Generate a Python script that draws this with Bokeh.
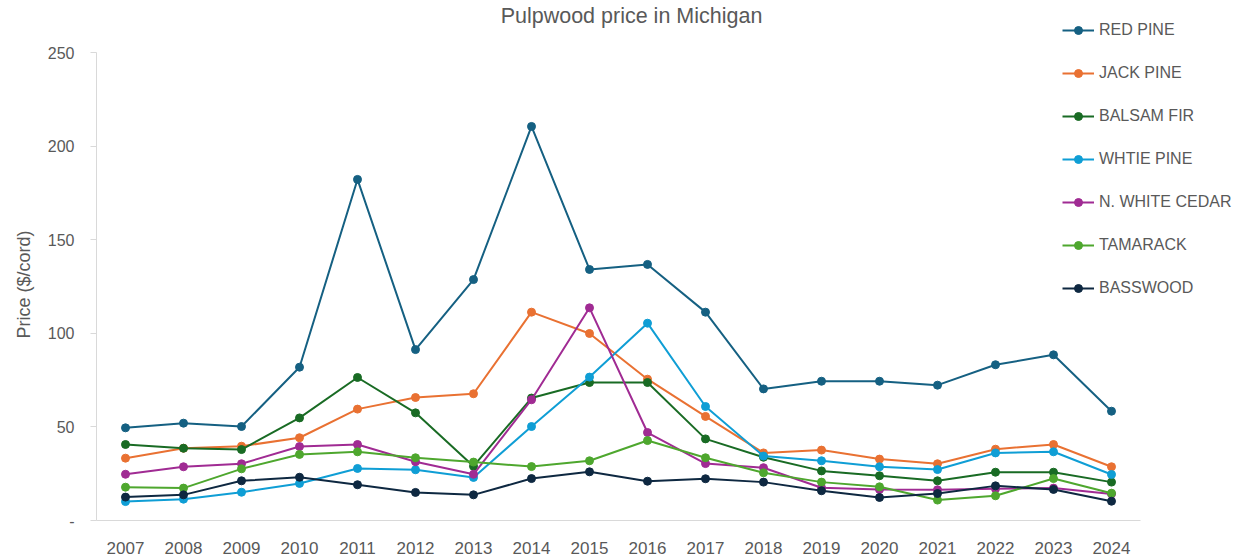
from bokeh.plotting import figure
from bokeh.models import Range1d, FixedTicker, Legend, LegendItem, Label, Title
from bokeh.embed import file_html
from bokeh.resources import INLINE

years = list(range(2007, 2025))
red_pine = [49.5, 52.0, 50.2, 81.9, 182.2, 91.3, 128.7, 210.5, 134.1, 136.8, 111.3, 70.3, 74.4, 74.4, 72.3, 83.2, 88.5, 58.4]
jack_pine = [33.3, 38.6, 39.7, 44.2, 59.5, 65.7, 67.7, 111.3, 99.9, 75.5, 55.6, 36.1, 37.6, 32.8, 30.3, 38.1, 40.6, 28.7]
balsam_fir = [40.6, 38.6, 37.9, 54.8, 76.4, 57.5, 29.0, 65.4, 73.7, 73.7, 43.6, 33.8, 26.5, 23.9, 21.2, 25.8, 25.8, 20.5]
white_pine = [10.1, 11.4, 15.1, 19.8, 27.8, 27.1, 23.0, 50.2, 76.6, 105.4, 60.9, 34.4, 31.9, 28.7, 27.2, 36.1, 36.7, 24.6]
white_cedar = [24.7, 28.7, 30.3, 39.5, 40.6, 31.4, 24.7, 64.5, 113.6, 47.0, 30.4, 28.2, 17.5, 16.6, 16.4, 16.9, 17.3, 14.2]
tamarack = [17.8, 17.3, 27.6, 35.3, 36.7, 33.5, 31.2, 28.8, 31.9, 42.7, 33.5, 25.5, 20.5, 18.0, 10.9, 13.2, 22.4, 14.6]
basswood = [12.5, 13.7, 21.2, 23.1, 19.1, 15.0, 13.7, 22.4, 26.0, 21.0, 22.3, 20.5, 15.9, 12.3, 14.4, 18.5, 16.6, 10.3]

series_names = ["RED PINE", "JACK PINE", "BALSAM FIR", "WHTIE PINE", "N. WHITE CEDAR", "TAMARACK", "BASSWOOD"]
series_values = [red_pine, jack_pine, balsam_fir, white_pine, white_cedar, tamarack, basswood]
series_colors = ["#156082", "#E97132", "#196B24", "#0F9ED5", "#A02B93", "#4EA72E", "#0E2841"]
y_ticks = [0, 50, 100, 150, 200, 250]

FONT = "Liberation Sans"
TXT = "#595959"
PX_PER_YEAR = 58.0
PX_PER_UNIT = 1.872

p = figure(width=1245, height=560, output_backend="svg", toolbar_location=None,
           x_range=Range1d(2006.5, 2006.5 + 1149 / PX_PER_YEAR),
           y_range=Range1d(0, 520 / PX_PER_UNIT),
           min_border_left=96, min_border_right=0, min_border_top=0, min_border_bottom=40)
p.outline_line_color = None
p.xgrid.visible = False
p.ygrid.visible = False

items = []
for name, vals, col in zip(series_names, series_values, series_colors):
    r1 = p.line(years, vals, line_color=col, line_width=2)
    r2 = p.scatter(years, vals, size=8, fill_color=col, line_color=col)
    items.append(LegendItem(label=name, renderers=[r1, r2]))

# axes
xa = p.xaxis[0]
xa.ticker = FixedTicker(ticks=years)
xa.bounds = (2006.5, 2024.5)
xa.axis_line_color = "#D9D9D9"
xa.major_tick_line_color = None
xa.minor_tick_line_color = None
xa.major_label_text_font = FONT
xa.major_label_text_font_size = "17px"
xa.major_label_text_color = TXT
xa.major_label_standoff = 15

ya = p.yaxis[0]
ya.ticker = FixedTicker(ticks=y_ticks)
ya.bounds = (0, 250)
ya.axis_line_color = "#D9D9D9"
ya.major_tick_line_color = "#D9D9D9"
ya.major_tick_out = 6
ya.major_tick_in = 0
ya.minor_tick_line_color = None
ya.major_label_overrides = {0: "-"}
ya.major_label_text_font = FONT
ya.major_label_text_font_size = "16px"
ya.major_label_text_color = TXT
ya.major_label_standoff = 16

title = Label(x=2006.5 + (631 - 96) / PX_PER_YEAR, y=(520 - 15.5) / PX_PER_UNIT,
              text="Pulpwood price in Michigan", text_align="center", text_baseline="middle",
              text_font=FONT, text_font_size="21.5px", text_color=TXT)
p.add_layout(title)

ylabel = Title(text="Price ($/cord)", align="left", offset=182, standoff=22,
               text_font=FONT, text_font_size="18px", text_font_style="normal", text_color=TXT)
p.add_layout(ylabel, "left")

legend = Legend(items=items, location=(966, 222), orientation="vertical",
                glyph_width=32, glyph_height=20, label_height=20, spacing=23,
                padding=0, margin=0, label_standoff=5,
                label_text_font=FONT, label_text_font_size="16px", label_text_color=TXT,
                border_line_color=None, background_fill_alpha=0)
p.add_layout(legend, "center")

open("out.html", "w").write(file_html(p, INLINE))
